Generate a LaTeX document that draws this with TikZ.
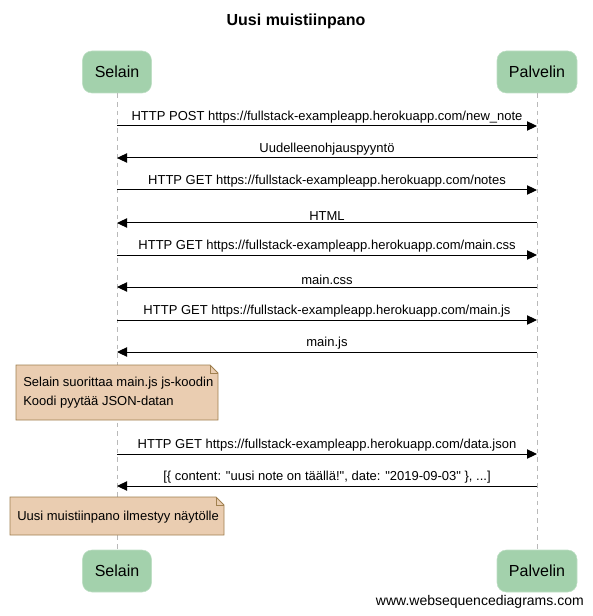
\documentclass[tikz,border=0pt]{standalone}
\usepackage{fontspec}
\setmainfont{Liberation Sans}
\usetikzlibrary{arrows.meta}
\definecolor{actorgreen}{RGB}{163,209,172}
\definecolor{notefill}{RGB}{234,205,177}
\definecolor{noteline}{RGB}{160,128,80}

\begin{document}
\begin{tikzpicture}[x=0.75pt,y=-0.75pt,
		actor/.style={rounded corners=7pt, fill=actorgreen, draw=actorgreen!70!white, minimum height=31.5pt, inner sep=0pt, font=\fontsize{12}{14}\selectfont},
		msg/.style={-{Triangle[length=7.5pt,width=7pt]}, line width=0.75pt},
		lbl/.style={above, inner sep=1.5pt, font=\fontsize{9.75}{12}\selectfont},
		life/.style={gray!55, line width=0.75pt, dash pattern=on 3.5pt off 3pt},
		notebox/.style={fill=notefill, draw=noteline, line width=0.6pt},
		notetext/.style={anchor=north west, inner sep=0pt, align=left, font=\fontsize{9.75}{14.25}\selectfont}]
		\useasboundingbox (0,0) rectangle (592,616);
		% title
		\node[font=\bfseries\fontsize{12}{14}\selectfont] (title) at (296,21) {Uusi muistiinpano};
		% participants, top and bottom
		\node[actor, minimum width=51.75pt] (selTop) at (117,72) {Selain};
		\node[actor, minimum width=60pt] (palTop) at (537,72) {Palvelin};
		\node[actor, minimum width=51.75pt] (selBot) at (117,571) {Selain};
		\node[actor, minimum width=60pt] (palBot) at (537,571) {Palvelin};
		% lifelines
		\draw[life] (selTop.south) -- (selBot.north);
		\draw[life] (palTop.south) -- (palBot.north);
		% message rows on both lifelines
		\foreach \i/\y in {1/126,2/158,3/190,4/223,5/255,6/287,7/320,8/352,9/454,10/486} {
			\coordinate (s\i) at (117,\y);
			\coordinate (p\i) at (537,\y);
		}
		% messages
		\draw[msg] (s1) -- node[lbl] {HTTP POST https://fullstack-exampleapp.herokuapp.com/new\_note} (p1);
		\draw[msg] (p2) -- node[lbl] {Uudelleenohjauspyyntö} (s2);
		\draw[msg] (s3) -- node[lbl] {HTTP GET https://fullstack-exampleapp.herokuapp.com/notes} (p3);
		\draw[msg] (p4) -- node[lbl] {HTML} (s4);
		\draw[msg] (s5) -- node[lbl] {HTTP GET https://fullstack-exampleapp.herokuapp.com/main.css} (p5);
		\draw[msg] (p6) -- node[lbl] {main.css} (s6);
		\draw[msg] (s7) -- node[lbl] {HTTP GET https://fullstack-exampleapp.herokuapp.com/main.js} (p7);
		\draw[msg] (p8) -- node[lbl] {main.js} (s8);
		% first note
		\draw[notebox] (16,365) -- (210,365) -- (218,373) -- (218,420) -- (16,420) -- cycle;
		\draw[noteline, line width=0.6pt] (210,365) -- (210,373) -- (218,373);
		\node[notetext] (note1) at (23,377) {Selain suorittaa main.js js-koodin\\Koodi pyytää JSON-datan};
		\draw[msg] (s9) -- node[lbl] {HTTP GET https://fullstack-exampleapp.herokuapp.com/data.json} (p9);
		\draw[msg] (p10) -- node[lbl] {[\{ content: \textquotedbl uusi note on täällä!\textquotedbl, date: \textquotedbl 2019-09-03\textquotedbl\ \}, ...]} (s10);
		% second note
		\draw[notebox] (10,497) -- (216,497) -- (224,505) -- (224,535) -- (10,535) -- cycle;
		\draw[noteline, line width=0.6pt] (216,497) -- (216,505) -- (224,505);
		\node[notetext] (note2) at (17,511) {Uusi muistiinpano ilmestyy näytölle};
		% footer
		\node[anchor=south east, inner sep=0pt, font=\fontsize{10.5}{12}\selectfont] (footer) at (584,609) {www.websequencediagrams.com};
	\end{tikzpicture}
\end{document}
